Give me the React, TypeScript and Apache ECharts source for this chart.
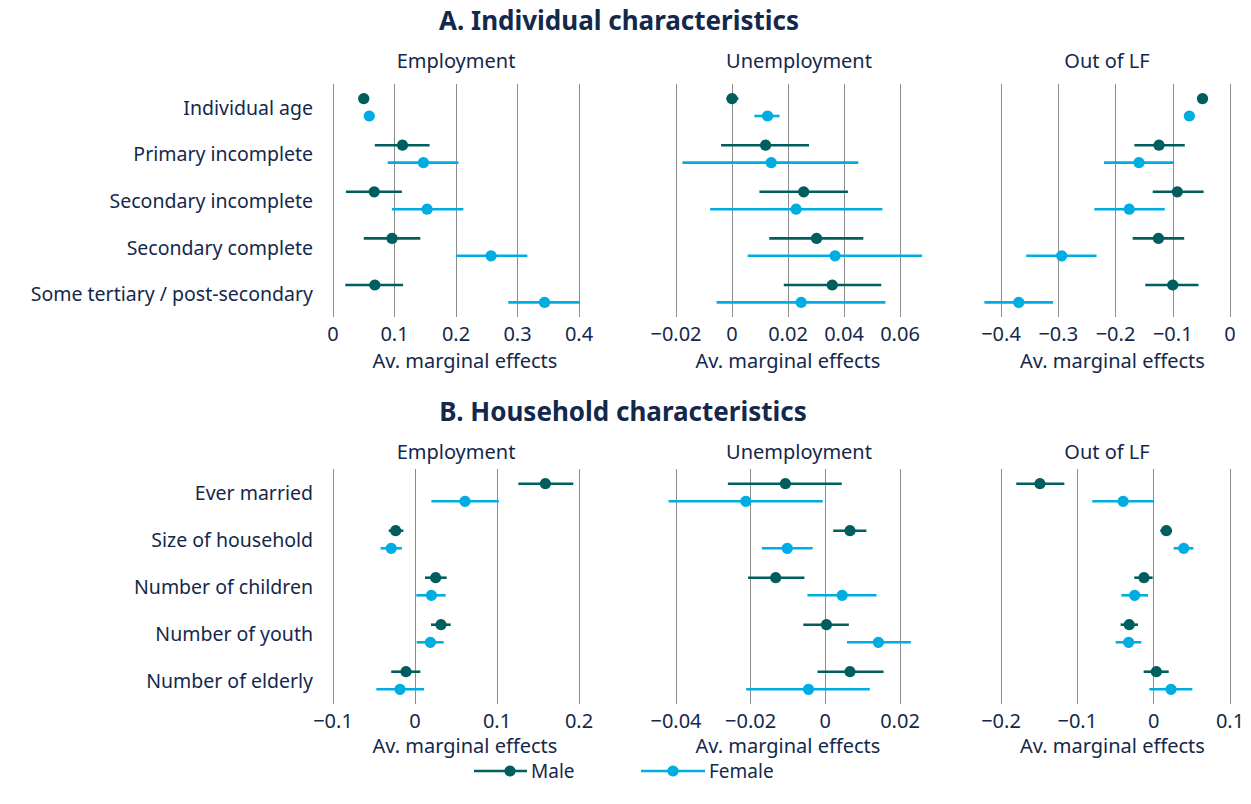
import React, { useEffect, useRef } from "react";
import * as echarts from "echarts";

// Row labels for the two blocks
const individualRows = [
  "Individual age",
  "Primary incomplete",
  "Secondary incomplete",
  "Secondary complete",
  "Some tertiary / post-secondary",
];
const householdRows = [
  "Ever married",
  "Size of household",
  "Number of children",
  "Number of youth",
  "Number of elderly",
];

// Each entry: [estimate, lower CI, upper CI]
const indEmpMale = [
  [0.05, 0.049, 0.051],
  [0.113, 0.068, 0.157],
  [0.067, 0.021, 0.112],
  [0.096, 0.05, 0.142],
  [0.068, 0.02, 0.114],
];
const indEmpFemale = [
  [0.059, 0.058, 0.06],
  [0.147, 0.089, 0.204],
  [0.153, 0.096, 0.212],
  [0.257, 0.2, 0.316],
  [0.344, 0.285, 0.401],
];
const indUnempMale = [
  [0.0, -0.002, 0.0023],
  [0.012, -0.0039, 0.0275],
  [0.0256, 0.0098, 0.0414],
  [0.0302, 0.0133, 0.0469],
  [0.0358, 0.0185, 0.0533],
];
const indUnempFemale = [
  [0.0127, 0.008, 0.017],
  [0.014, -0.0177, 0.0451],
  [0.0229, -0.0078, 0.0537],
  [0.0368, 0.0056, 0.0679],
  [0.0247, -0.0055, 0.0548],
];
const indOlfMale = [
  [-0.048, -0.049, -0.047],
  [-0.124, -0.167, -0.079],
  [-0.092, -0.135, -0.046],
  [-0.125, -0.17, -0.08],
  [-0.1, -0.148, -0.055],
];
const indOlfFemale = [
  [-0.071, -0.072, -0.07],
  [-0.159, -0.22, -0.098],
  [-0.176, -0.237, -0.114],
  [-0.294, -0.356, -0.233],
  [-0.369, -0.429, -0.309],
];
const hhEmpMale = [
  [0.159, 0.126, 0.193],
  [-0.0236, -0.032, -0.0142],
  [0.0252, 0.0122, 0.0386],
  [0.0317, 0.0195, 0.0435],
  [-0.011, -0.029, 0.0065],
];
const hhEmpFemale = [
  [0.061, 0.02, 0.102],
  [-0.029, -0.042, -0.016],
  [0.02, 0.0016, 0.0374],
  [0.0187, 0.002, 0.035],
  [-0.0183, -0.0472, 0.011],
];
const hhUnempMale = [
  [-0.0107, -0.0261, 0.0044],
  [0.0066, 0.0021, 0.011],
  [-0.0133, -0.0207, -0.0056],
  [0.0003, -0.0059, 0.0063],
  [0.0066, -0.0021, 0.0156],
];
const hhUnempFemale = [
  [-0.0213, -0.042, -0.0007],
  [-0.0102, -0.017, -0.0034],
  [0.0045, -0.0048, 0.0137],
  [0.0142, 0.0058, 0.0229],
  [-0.0045, -0.0212, 0.0119],
];
const hhOlfMale = [
  [-0.149, -0.18, -0.117],
  [0.0166, 0.0087, 0.024],
  [-0.0127, -0.0254, -0.0013],
  [-0.032, -0.0433, -0.0206],
  [0.0035, -0.0131, 0.0197],
];
const hhOlfFemale = [
  [-0.04, -0.0805, -0.0004],
  [0.0394, 0.0262, 0.052],
  [-0.0249, -0.0424, -0.0074],
  [-0.0328, -0.0498, -0.0162],
  [0.0227, -0.0057, 0.0507],
];

// Axis ranges: [min, max, interval]
const axisRanges = [
  [0, 0.4, 0.1],
  [-0.02, 0.06, 0.02],
  [-0.4, 0, 0.1],
  [-0.1, 0.2, 0.1],
  [-0.04, 0.02, 0.02],
  [-0.2, 0.1, 0.1],
];

const panelTitles = ["Employment", "Unemployment", "Out of LF"];
const blockTitles = ["A. Individual characteristics", "B. Household characteristics"];
const axisName = "Av. marginal effects";
const legendNames = ["Male", "Female"];

const MALE = "#005f5e";
const FEMALE = "#00ade3";
const TEXT = "#14284b";
const GRIDLINE = "#8c8c8c";
const FONT = "'Noto Sans', sans-serif";

const colLeft = [333, 676, 1001];
const colWidth = [246, 224, 229];
const rowTop = [84, 469];
const rowHeight = [233, 235];

function fmt(v: number) {
  const s = String(Number(v.toFixed(4)));
  return s.replace("-", "\u2212");
}

function makeRender(color: string, sign: number) {
  return (params: any, api: any) => {
    const cat = api.value(0);
    const est = api.value(1);
    const lo = api.value(2);
    const hi = api.value(3);
    const band = api.size([0, 1])[1];
    const p = api.coord([est, cat]);
    const pl = api.coord([lo, cat]);
    const ph = api.coord([hi, cat]);
    const y = p[1] + sign * band * 0.187;
    return {
      type: "group",
      children: [
        {
          type: "line",
          shape: { x1: pl[0], y1: y, x2: ph[0], y2: y },
          style: { stroke: color, lineWidth: 2.6 },
        },
        {
          type: "circle",
          shape: { cx: p[0], cy: y, r: 5.6 },
          style: { fill: color },
        },
      ],
    };
  };
}

export default function App() {
  const ref = useRef<HTMLDivElement>(null);

  useEffect(() => {
    document.body.style.margin = "0";
    if (!ref.current) return;
    const chart = echarts.init(ref.current, undefined, { renderer: "svg" });

    const panels = [
      [indEmpMale, indEmpFemale],
      [indUnempMale, indUnempFemale],
      [indOlfMale, indOlfFemale],
      [hhEmpMale, hhEmpFemale],
      [hhUnempMale, hhUnempFemale],
      [hhOlfMale, hhOlfFemale],
    ];

    const grids: any[] = [];
    const xAxes: any[] = [];
    const yAxes: any[] = [];
    const series: any[] = [];

    panels.forEach((pair, i) => {
      const row = Math.floor(i / 3);
      const col = i % 3;
      grids.push({
        left: colLeft[col],
        width: colWidth[col],
        top: rowTop[row],
        height: rowHeight[row],
        containLabel: false,
      });
      const [mn, mx, iv] = axisRanges[i];
      xAxes.push({
        type: "value",
        gridIndex: i,
        min: mn,
        max: mx,
        interval: iv,
        axisLine: { show: false },
        axisTick: { show: false },
        splitLine: { show: true, lineStyle: { color: GRIDLINE, width: 1 } },
        axisLabel: {
          show: true,
          showMinLabel: true,
          showMaxLabel: true,
          margin: 6,
          fontSize: 20,
          fontFamily: FONT,
          color: TEXT,
          formatter: (v: number) => fmt(v),
        },
        name: axisName,
        nameLocation: "middle",
        nameGap: row === 0 ? 33 : 31,
        nameTextStyle: {
          fontSize: 20,
          lineHeight: 20,
          fontFamily: FONT,
          color: TEXT,
          padding: col === 0 ? [0, 0, 0, 18] : col === 2 ? [0, 6, 0, 0] : [0, 0, 0, 0],
        },
      });
      yAxes.push({
        type: "category",
        gridIndex: i,
        inverse: true,
        data: row === 0 ? individualRows : householdRows,
        axisLine: { show: false },
        axisTick: { show: false },
        splitLine: { show: false },
        axisLabel: {
          show: col === 0,
          margin: 20,
          fontSize: 19.5,
          fontFamily: FONT,
          color: TEXT,
        },
      });
      const [male, female] = pair;
      series.push({
        type: "custom",
        name: legendNames[0],
        xAxisIndex: i,
        yAxisIndex: i,
        clip: false,
        encode: { x: [1, 2, 3], y: 0 },
        data: male.map((d, k) => [k, d[0], d[1], d[2]]),
        renderItem: makeRender(MALE, -1),
      });
      series.push({
        type: "custom",
        name: legendNames[1],
        xAxisIndex: i,
        yAxisIndex: i,
        clip: false,
        encode: { x: [1, 2, 3], y: 0 },
        data: female.map((d, k) => [k, d[0], d[1], d[2]]),
        renderItem: makeRender(FEMALE, 1),
      });
    });

    const titleText = (text: string, x: number, y: number, bold = false, size = 20) => ({
      type: "text",
      x,
      y,
      style: {
        text,
        fontSize: size,
        fontWeight: bold ? "bold" : "normal",
        fontFamily: FONT,
        fill: TEXT,
        align: "center",
        verticalAlign: "middle",
      },
    });

    const panelCenters = [456, 799, 1107];
    const graphics: any[] = [
      titleText(blockTitles[0], 619, 20, true, 26),
      titleText(blockTitles[1], 623, 411, true, 26),
    ];
    panelTitles.forEach((t, c) => {
      graphics.push(titleText(t, panelCenters[c], 60));
      graphics.push(titleText(t, panelCenters[c], 451));
    });

    // Legend
    const legendItems = [
      { name: legendNames[0], color: MALE, x1: 474, x2: 527, dot: 510, tx: 531 },
      { name: legendNames[1], color: FEMALE, x1: 641, x2: 705, dot: 673, tx: 709 },
    ];
    const ly = 771;
    legendItems.forEach((it) => {
      graphics.push({
        type: "line",
        shape: { x1: it.x1, y1: ly, x2: it.x2, y2: ly },
        style: { stroke: it.color, lineWidth: 2.6 },
      });
      graphics.push({
        type: "circle",
        shape: { cx: it.dot, cy: ly, r: 5.6 },
        style: { fill: it.color },
      });
      graphics.push({
        type: "text",
        x: it.tx,
        y: ly,
        style: {
          text: it.name,
          fontSize: 19,
          lineHeight: 19,
          fontFamily: FONT,
          fill: TEXT,
          align: "left",
          verticalAlign: "middle",
        },
      });
    });

    chart.setOption({
      animation: false,
      backgroundColor: "#ffffff",
      grid: grids,
      xAxis: xAxes,
      yAxis: yAxes,
      series,
      graphic: graphics,
    });

    return () => {
      chart.dispose();
    };
  }, []);

  return <div ref={ref} style={{ width: 1251, height: 804 }} />;
}
